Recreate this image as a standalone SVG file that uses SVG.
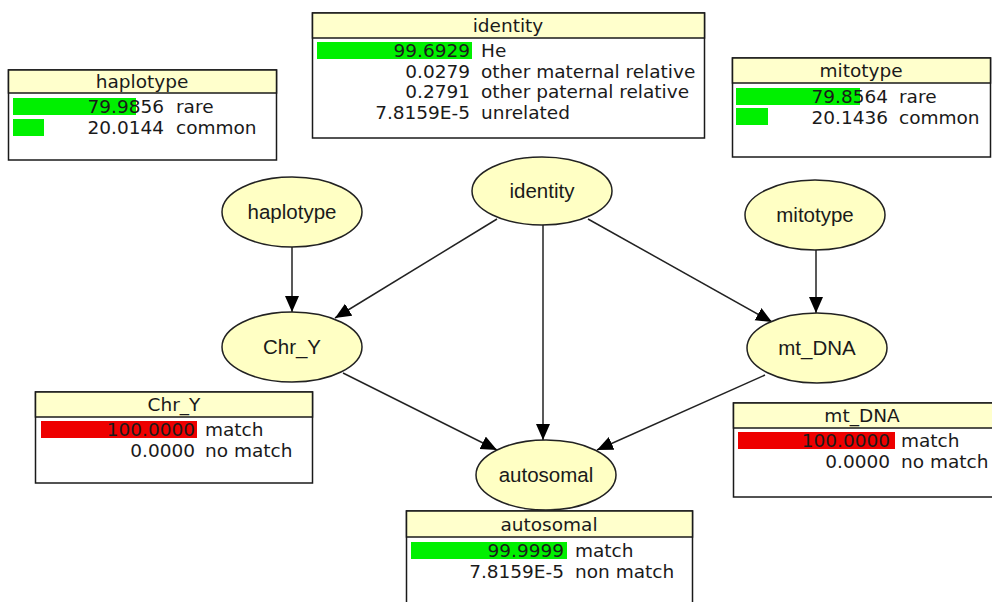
<svg xmlns="http://www.w3.org/2000/svg" width="992" height="602" viewBox="0 0 992 602">
  <defs>
    <marker id="arrow" markerUnits="userSpaceOnUse" markerWidth="18" markerHeight="16" refX="16" refY="7" orient="auto">
      <path d="M0,0 L16,7 L0,14 z" fill="#000"/>
    </marker>
  </defs>
  <style>
    .bg { fill: #ffffff; }
    .box { fill: #ffffff; stroke: #1a1a1a; stroke-width: 1.5; }
    .hdr { fill: #ffffcc; stroke: #1a1a1a; stroke-width: 1.5; }
    .txt { font-family: "DejaVu Sans", sans-serif; font-size: 18.5px; fill: #1a1a1a; }
    .val { text-anchor: end; }
    .title { text-anchor: middle; }
    .green { fill: #00f000; }
    .red { fill: #ee0000; }
    .node ellipse { fill: #ffffc4; stroke: #222; stroke-width: 1.5; }
    .node text { font-family: "Liberation Sans", Arial, sans-serif; font-size: 20.5px; fill: #1a1a1a; text-anchor: middle; }
    .edge { stroke: #222; stroke-width: 1.5; fill: none; marker-end: url(#arrow); }
  </style>
  <rect class="bg" x="0" y="0" width="992" height="602"/>

  <!-- probability monitors -->
  <g id="monitor-haplotype">
    <rect class="box" x="8.5" y="70" width="268" height="90"/>
    <rect class="hdr" x="8.5" y="70" width="268" height="23"/>
    <text class="txt title" x="142" y="88">haplotype</text>
    <rect class="green" x="13" y="98" width="123" height="17"/>
    <rect class="green" x="13" y="119" width="31" height="17"/>
    <text class="txt val" x="164" y="113">79.9856</text>
    <text class="txt" x="176" y="113">rare</text>
    <text class="txt val" x="164" y="134">20.0144</text>
    <text class="txt" x="176" y="134">common</text>
  </g>

  <g id="monitor-identity">
    <rect class="box" x="312.5" y="13" width="392" height="125"/>
    <rect class="hdr" x="312.5" y="13" width="392" height="25"/>
    <text class="txt title" x="508" y="32">identity</text>
    <rect class="green" x="317" y="42" width="155" height="17"/>
    <text class="txt val" x="470" y="57">99.6929</text>
    <text class="txt" x="481" y="57">He</text>
    <text class="txt val" x="470" y="78">0.0279</text>
    <text class="txt" x="481" y="78">other maternal relative</text>
    <text class="txt val" x="470" y="98">0.2791</text>
    <text class="txt" x="481" y="98">other paternal relative</text>
    <text class="txt val" x="470" y="119">7.8159E-5</text>
    <text class="txt" x="481" y="119">unrelated</text>
  </g>

  <g id="monitor-mitotype">
    <rect class="box" x="732.5" y="58" width="258" height="99"/>
    <rect class="hdr" x="732.5" y="58" width="258" height="25"/>
    <text class="txt title" x="861" y="77">mitotype</text>
    <rect class="green" x="736" y="88" width="124" height="17"/>
    <rect class="green" x="736" y="108" width="32" height="17"/>
    <text class="txt val" x="888" y="103">79.8564</text>
    <text class="txt" x="899" y="103">rare</text>
    <text class="txt val" x="888" y="124">20.1436</text>
    <text class="txt" x="899" y="124">common</text>
  </g>

  <g id="monitor-chr-y">
    <rect class="box" x="35.5" y="392" width="277" height="91"/>
    <rect class="hdr" x="35.5" y="392" width="277" height="25"/>
    <text class="txt title" x="174" y="411">Chr_Y</text>
    <rect class="red" x="41" y="421" width="156" height="17"/>
    <text class="txt val" x="195" y="436">100.0000</text>
    <text class="txt" x="205" y="436">match</text>
    <text class="txt val" x="195" y="457">0.0000</text>
    <text class="txt" x="205" y="457">no match</text>
  </g>

  <g id="monitor-mt-dna">
    <rect class="box" x="733.5" y="403" width="265" height="94"/>
    <rect class="hdr" x="733.5" y="403" width="265" height="25"/>
    <text class="txt title" x="862" y="422">mt_DNA</text>
    <rect class="red" x="738" y="432" width="157" height="17"/>
    <text class="txt val" x="890" y="447">100.0000</text>
    <text class="txt" x="901" y="447">match</text>
    <text class="txt val" x="890" y="468">0.0000</text>
    <text class="txt" x="901" y="468">no match</text>
  </g>

  <g id="monitor-autosomal">
    <rect class="box" x="406.5" y="511" width="286" height="100"/>
    <rect class="hdr" x="406.5" y="511" width="286" height="26"/>
    <text class="txt title" x="549" y="531">autosomal</text>
    <rect class="green" x="411" y="542" width="156" height="17"/>
    <text class="txt val" x="564" y="557">99.9999</text>
    <text class="txt" x="575" y="557">match</text>
    <text class="txt val" x="564" y="578">7.8159E-5</text>
    <text class="txt" x="575" y="578">non match</text>
  </g>

  <!-- dependency arcs -->
  <g id="edges">
    <line class="edge" x1="292" y1="247" x2="292" y2="312"/>
    <line class="edge" x1="497" y1="219" x2="335" y2="318"/>
    <line class="edge" x1="543" y1="225" x2="543" y2="440"/>
    <line class="edge" x1="588" y1="219" x2="772" y2="322"/>
    <line class="edge" x1="816" y1="250" x2="816" y2="313"/>
    <line class="edge" x1="343" y1="373" x2="497" y2="450"/>
    <line class="edge" x1="765" y1="375" x2="597" y2="450"/>
  </g>

  <!-- network variables -->
  <g id="node-haplotype" class="node">
    <ellipse cx="292" cy="212" rx="70" ry="35"/>
    <text x="292" y="219">haplotype</text>
  </g>
  <g id="node-identity" class="node">
    <ellipse cx="542" cy="191" rx="70" ry="34"/>
    <text x="542" y="198">identity</text>
  </g>
  <g id="node-mitotype" class="node">
    <ellipse cx="815" cy="215" rx="70" ry="35"/>
    <text x="815" y="222">mitotype</text>
  </g>
  <g id="node-chr-y" class="node">
    <ellipse cx="292" cy="347" rx="70" ry="35"/>
    <text x="292" y="354">Chr_Y</text>
  </g>
  <g id="node-mt-dna" class="node">
    <ellipse cx="817" cy="348" rx="70" ry="35"/>
    <text x="817" y="355">mt_DNA</text>
  </g>
  <g id="node-autosomal" class="node">
    <ellipse cx="546" cy="475" rx="70" ry="35"/>
    <text x="546" y="482">autosomal</text>
  </g>
</svg>
